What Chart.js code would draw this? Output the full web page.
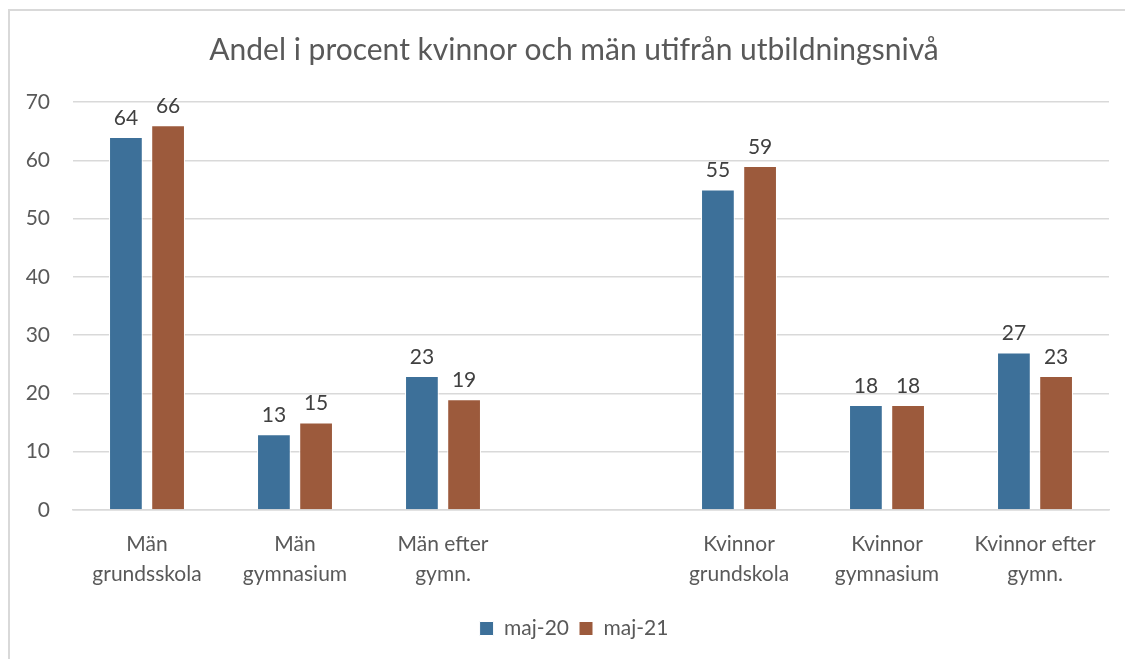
<!DOCTYPE html>
<html>
<head>
<meta charset="utf-8">
<script src="https://cdn.jsdelivr.net/npm/chart.js@4.4.1/dist/chart.umd.min.js"></script>
<style>
  html, body { margin: 0; padding: 0; background: #fff; overflow: hidden; }
  #frame { position: absolute; left: 8px; top: 9px; width: 1140px; height: 680px; border: 2px solid #d9d9d9; }
  #wrap { position: absolute; left: 0; top: 0; width: 1125px; height: 659px; overflow: hidden; }
</style>
</head>
<body>
<div id="frame"></div>
<div id="wrap"><canvas id="myChart" width="1148" height="659"></canvas></div>
<script>
// kategorier (tom plats i mitten mellan män och kvinnor)
const kategorier = [
  ['Män', 'grundsskola'],
  ['Män', 'gymnasium'],
  ['Män efter', 'gymn.'],
  '',
  ['Kvinnor', 'grundskola'],
  ['Kvinnor', 'gymnasium'],
  ['Kvinnor efter', 'gymn.']
];
const maj20 = [64, 13, 23, null, 55, 18, 27];
const maj21 = [66, 15, 19, null, 59, 18, 23];
const yTicks = [0, 10, 20, 30, 40, 50, 60, 70];

const textFarg = '#595959';
const fontFamily = 'Lato, "Open Sans", sans-serif';

// skriver värdet ovanför varje stapel
const vardeEtiketter = {
  id: 'vardeEtiketter',
  afterDatasetsDraw(chart) {
    const ctx = chart.ctx;
    ctx.save();
    ctx.font = '21px ' + fontFamily;
    ctx.fillStyle = '#404040';
    ctx.textAlign = 'center';
    ctx.textBaseline = 'middle';
    chart.data.datasets.forEach((ds, i) => {
      chart.getDatasetMeta(i).data.forEach((bar, j) => {
        if (ds.data[j] == null) return;
        ctx.fillText(ds.data[j], bar.x, bar.y - 19);
      });
    });
    ctx.restore();
  }
};

const config = {
  type: 'bar',
  data: {
    labels: kategorier,
    datasets: [{
      label: 'maj-20',
      backgroundColor: '#3D7099',
      borderColor: '#ffffff',
      borderWidth: 1,
      data: maj20,
    },
    {
      label: 'maj-21',
      backgroundColor: '#9C5A3C',
      borderColor: '#ffffff',
      borderWidth: 1,
      data: maj21,
    }]
  },
  options: {
    responsive: false,
    animation: false,
    layout: { padding: { left: 0, right: 0, top: 0, bottom: 10 } },
    categoryPercentage: 0.57,
    barPercentage: 0.8,
    plugins: {
      title: {
        display: true,
        text: 'Andel i procent kvinnor och män utifrån utbildningsnivå',
        color: textFarg,
        font: { family: fontFamily, size: 30, weight: 'normal' },
        padding: { top: 32, bottom: 34 }
      },
      legend: {
        position: 'bottom',
        labels: {
          color: textFarg,
          font: { family: fontFamily, size: 21 },
          boxWidth: 14,
          boxHeight: 14,
          padding: 10
        }
      },
      tooltip: { enabled: false }
    },
    scales: {
      x: {
        grid: { display: false, drawTicks: false },
        border: { color: '#d9d9d9', width: 1.5 },
        ticks: {
          color: textFarg,
          font: { family: fontFamily, size: 21, lineHeight: 1.43 },
          padding: 19,
          maxRotation: 0,
          autoSkip: false
        }
      },
      y: {
        min: 0,
        max: 70,
        afterFit(scale) { scale.width = 73; },
        afterBuildTicks(scale) { scale.ticks = yTicks.map(v => ({ value: v })); },
        grid: { color: '#d9d9d9', lineWidth: 1.5, drawTicks: false },
        border: { display: false },
        ticks: {
          color: textFarg,
          font: { family: fontFamily, size: 21 },
          padding: 23
        }
      },
      // tom axel till höger så att rubrik och förklaring hamnar mitt i ramen
      hoger: {
        position: 'right',
        afterFit(scale) { scale.width = 39; },
        grid: { display: false },
        border: { display: false },
        ticks: { display: false }
      }
    }
  },
  plugins: [vardeEtiketter]
};

var myChart = new Chart(document.getElementById('myChart'), config);
</script>
</body>
</html>
